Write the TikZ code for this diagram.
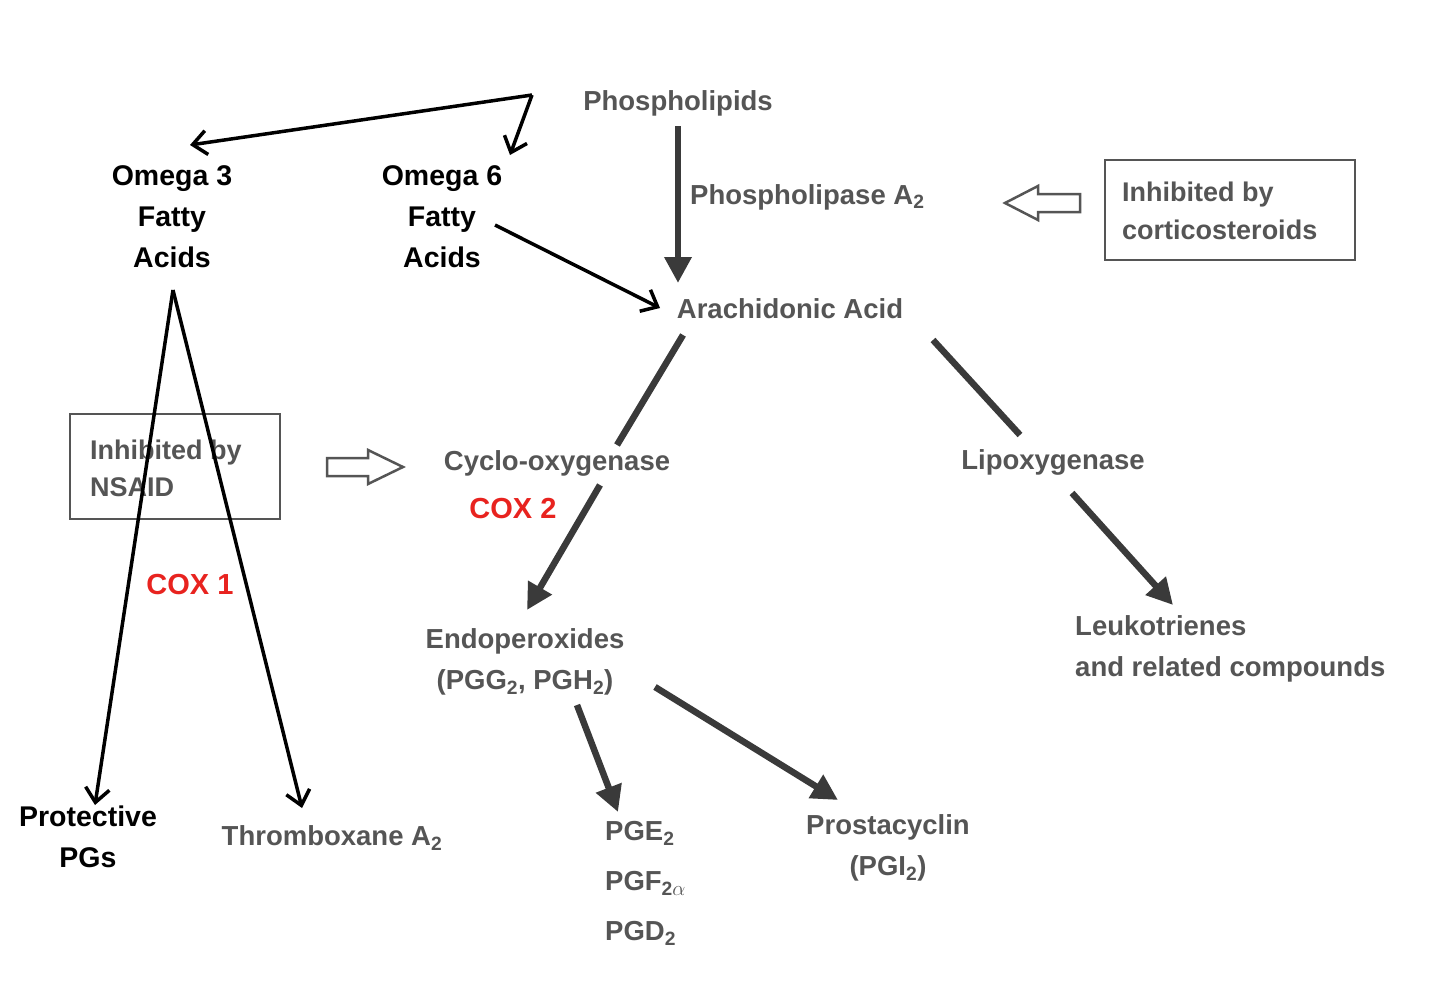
\documentclass[tikz,border=0pt]{standalone}
\usepackage{fontspec}
\setmainfont{Liberation Sans}
\usetikzlibrary{arrows.meta}
\definecolor{gt}{HTML}{555555}
\definecolor{ga}{HTML}{3A3A3A}
\definecolor{rd}{HTML}{E8231F}
\newcommand{\sbt}[1]{\textsubscript{#1}}
\begin{document}
\begin{tikzpicture}[x=1pt,y=-1pt,
 t/.style={font=\fontsize{27.5}{41}\selectfont\bfseries,text=gt,inner sep=0pt},
 b/.style={font=\fontsize{28.5}{41}\selectfont\bfseries,text=black,inner sep=0pt,align=center},
 r/.style={font=\fontsize{29}{30}\selectfont\bfseries,text=rd,inner sep=0pt},
 blk/.style={line width=3.5pt,-{Straight Barb[length=14pt,width=24pt,line width=3.5pt]}},
 thk/.style={line width=6.5pt,color=ga,-{Triangle[length=26pt,width=26pt]}},
 thkn/.style={line width=6.5pt,color=ga},
 box/.style={draw=gt,line width=2pt,inner sep=0pt},
 hol/.style={draw=gt,line width=2.5pt,fill=white,line join=miter}]
\fill[white] (0,0) rectangle (1440,982);
\node[t] (pl) at (678,103) {Phospholipids};
\node[b] (o3) at (172,217) {Omega 3\\Fatty\\Acids};
\node[b] (o6) at (442,217) {Omega 6\\Fatty\\Acids};
\node[t,anchor=west] (pla) at (690,197) {Phospholipase A\sbt{2}};
\node[box,minimum width=250pt,minimum height=100pt] (ib1) at (1230,210) {};
\node[t,anchor=west,align=left,font=\fontsize{27}{38}\selectfont\bfseries] (ib1t) at (1122,211) {Inhibited by\\corticosteroids};
\draw[hol] (1005,203) -- (1038,186) -- (1038,194) -- (1080,194) -- (1080,212) -- (1038,212) -- (1038,220) -- cycle;
\node[t] (aa) at (790,309) {Arachidonic Acid};
\node[t] (cox) at (557,463) {Cyclo-oxygenase};
\node[r] (c2) at (513,509) {COX 2};
\node[t] (lox) at (1053,462) {Lipoxygenase};
\node[box,minimum width=210pt,minimum height=105pt] (ib2) at (175,466) {};
\node[t,anchor=west,align=left,font=\fontsize{27}{37}\selectfont\bfseries] (ib2t) at (90,468) {Inhibited by\\NSAID};
\draw[hol] (403,467) -- (368,450) -- (368,458) -- (327,458) -- (327,476) -- (368,476) -- (368,484) -- cycle;
\node[r] (c1) at (190,585) {COX 1};
\node[t,align=center] (endo) at (525,662) {Endoperoxides\\(PGG\sbt{2}, PGH\sbt{2})};
\node[t,anchor=west,align=left] (leu) at (1075,649) {Leukotrienes\\and related compounds};
\node[b] (ppg) at (88,837) {Protective\\PGs};
\node[t] (tx) at (332,838) {Thromboxane A\sbt{2}};
\node[t,anchor=west] (pge) at (605,833) {PGE\sbt{2}};
\node[t,anchor=west] (pgf) at (605,883) {PGF\sbt{2$\alpha$}};
\node[t,anchor=west] (pgd) at (605,933) {PGD\sbt{2}};
\node[t,align=center] (pc) at (888,848) {Prostacyclin\\(PGI\sbt{2})};
\coordinate (top) at (532,95);
\draw[blk] (top) -- (190,145);
\draw[blk] (top) -- (510,155);
\draw[blk] (495,225) -- (660,308);
\draw[blk] (173,290) -- (95,805);
\draw[blk] (173,290) -- (302,808);
\draw[thk] (pl.south) ++(0,10) -- (678,283);
\draw[thkn] (683,335) -- (617,445);
\draw[thk] (600,485) -- (527,610);
\draw[thkn] (933,340) -- (1020,435);
\draw[thk] (1072,493) -- (1173,605);
\draw[thk] (577,705) -- (618,812);
\draw[thk] (655,687) -- (838,800);
\end{tikzpicture}
\end{document}
